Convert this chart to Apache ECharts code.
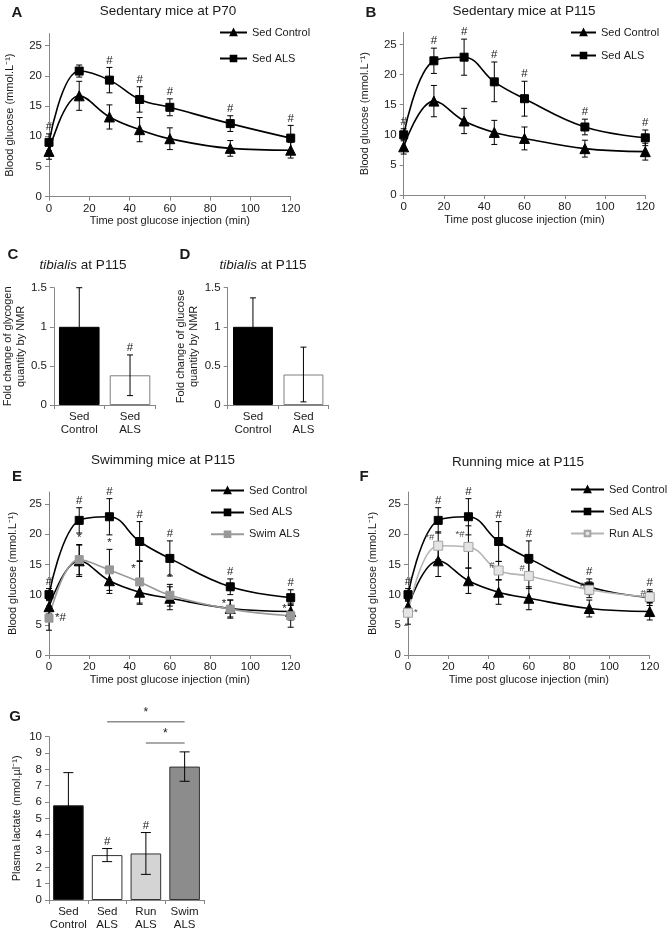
<!DOCTYPE html>
<html><head><meta charset="utf-8">
<script src="https://cdn.jsdelivr.net/npm/echarts@6/dist/echarts.min.js"></script>
<style>html,body{margin:0;padding:0;background:#fff}#c{width:667px;height:932px}</style>
</head><body><div id="c"></div>
<script>
// ---------- data ----------
const times = [0, 15, 30, 45, 60, 90, 120];
const glucoseTicks = [0, 5, 10, 15, 20, 25];

// Panel A (P70, sedentary)
const p70Ctrl = [7.5, 16.7, 13.2, 11.1, 9.6, 8.0, 7.7];
const p70CtrlErr = [1.3, 2.4, 2.0, 2.0, 1.8, 1.3, 1.3];
const p70Als = [9.0, 20.8, 19.3, 16.1, 14.8, 12.1, 9.7];
const p70AlsErr = [1.4, 1.0, 2.1, 2.1, 1.4, 1.3, 2.1];
const p70AlsSig = ['#', '', '#', '#', '#', '#', '#'];

// Panels B, E, F (P115, sedentary)
const p115Ctrl = [8.0, 15.6, 12.3, 10.4, 9.4, 7.7, 7.2];
const p115CtrlErr = [1.2, 2.6, 2.1, 2.0, 1.9, 1.4, 1.4];
const p115Als = [10.0, 22.3, 22.9, 18.8, 16.0, 11.3, 9.5];
const p115AlsErr = [1.0, 2.1, 3.0, 3.3, 2.9, 1.3, 1.3];
const p115AlsSig = ['#', '#', '#', '#', '#', '#', '#'];

// Panel E (swimming ALS)
const swimAls = [6.1, 15.8, 14.1, 12.1, 9.9, 7.6, 6.5];
const swimAlsErr = [2.0, 2.5, 3.4, 3.5, 1.8, 1.5, 1.9];
const swimAlsSig = ['*#', '*', '*', '*', '*', '*', '*'];

// Panel F (running ALS)
const runAls = [7.0, 18.1, 17.9, 14.0, 13.1, 10.8, 9.6];
const runAlsErr = [1.9, 2.3, 3.5, 1.5, 2.1, 1.3, 0.9];
const runAlsSig = ['*', '*#', '*#', '#', '#', '#', '#'];

// Panels C, D (tibialis NMR)
const tibCats = ['Sed\nControl', 'Sed\nALS'];
const glycogen = [1.0, 0.38];
const glycogenErr = [0.5, 0.26];
const glycogenSig = ['', '#'];
const glucoseNmr = [1.0, 0.39];
const glucoseNmrErr = [0.37, 0.35];
const glucoseNmrSig = ['', ''];

// Panel G (plasma lactate)
const lactCats = ['Sed\nControl', 'Sed\nALS', 'Run\nALS', 'Swim\nALS'];
const lactate = [5.8, 2.75, 2.85, 8.17];
const lactateErr = [2.0, 0.4, 1.28, 0.9];
const lactateSig = ['', '#', '#', ''];
const lactateCompare = [[2, 3, '*'], [1, 3, '*']];

// ---------- styling / helpers ----------
const FONT = '"Liberation Sans", Arial, sans-serif';
const AX = '#868686', TXT = '#1a1a1a';
const allTop = times.map(() => 'top');
const swimPlace = ['right', 'top', 'top', 'left', 'top', 'left', 'left'];
const runPlace = ['right', 'left', 'left', 'left', 'left', 'left', 'left'];

const grids = [
  {left: 49, top: 33.6, width: 241.7, height: 163.1},     // A
  {left: 403.7, top: 32.5, width: 241.6, height: 162.5},  // B
  {left: 49, top: 287.7, width: 106.4, height: 117.3},    // C
  {left: 227.7, top: 287.7, width: 101, height: 117.3},   // D
  {left: 49, top: 492, width: 241.7, height: 163},        // E
  {left: 408, top: 492, width: 241.7, height: 163},       // F
  {left: 49, top: 736.7, width: 155, height: 163.3}       // G
];

const txt = (s) => Object.assign({color: TXT, fontFamily: FONT}, s || {});
const axLine = {show: true, lineStyle: {color: AX, width: 1}};
const axTick = (extra) => Object.assign({show: true, length: 4, lineStyle: {color: AX}}, extra || {});

function timeX(gi) {
  return {type: 'value', gridIndex: gi, min: 0, max: 120, interval: 20,
    name: 'Time post glucose injection (min)', nameLocation: 'middle', nameGap: 19,
    nameTextStyle: txt({fontSize: 11}), axisLine: axLine, axisTick: axTick(),
    axisLabel: txt({fontSize: 11.5, margin: 6}), splitLine: {show: false}};
}
function glucY(gi, gap) {
  return {type: 'value', gridIndex: gi, min: 0, max: 27,
    name: 'Blood glucose (mmol.L⁻¹)', nameLocation: 'middle', nameGap: gap,
    nameTextStyle: txt({fontSize: 11}), axisLine: axLine,
    axisTick: axTick({customValues: glucoseTicks}),
    axisLabel: txt({fontSize: 11.5, margin: 7, customValues: glucoseTicks}), splitLine: {show: false}};
}
function catX(gi, cats) {
  return {type: 'category', gridIndex: gi, data: cats, axisLine: axLine,
    axisTick: axTick({alignWithLabel: false}),
    axisLabel: txt({fontSize: 11.5, margin: 5, lineHeight: 13, interval: 0})};
}
function barY(gi, max, interval, name, gap) {
  return {type: 'value', gridIndex: gi, min: 0, max: max, interval: interval,
    name: name, nameLocation: 'middle', nameGap: gap,
    nameTextStyle: txt({fontSize: 11, lineHeight: 13}), axisLine: axLine, axisTick: axTick(),
    axisLabel: txt({fontSize: 11.5, margin: 7}), splitLine: {show: false}};
}

function errRender(cap) {
  return function (params, api) {
    const x = api.value(0), y = api.value(1), e = api.value(2);
    const t = api.coord([x, y + e]), b = api.coord([x, y - e]);
    const st = {stroke: '#000', lineWidth: 1};
    return {type: 'group', children: [
      {type: 'line', shape: {x1: t[0], y1: t[1], x2: b[0], y2: b[1]}, style: st},
      {type: 'line', shape: {x1: t[0] - cap, y1: t[1], x2: t[0] + cap, y2: t[1]}, style: st},
      {type: 'line', shape: {x1: b[0] - cap, y1: b[1], x2: b[0] + cap, y2: b[1]}, style: st}
    ]};
  };
}
function errSeries(gi, xs, vals, errs, cap) {
  return {type: 'custom', xAxisIndex: gi, yAxisIndex: gi, silent: true, z: 4,
    renderItem: errRender(cap || 3), encode: {x: 0, y: 1},
    data: vals.map((v, i) => [xs[i], v, errs[i]])};
}
function annotSeries(gi, xs, vals, errs, sigs, places, size, color) {
  const data = [];
  sigs.forEach((s, i) => {
    if (!s) return;
    const anchor = places[i] === 'top' ? vals[i] + errs[i] : (places[i] === 'left' ? vals[i] + 0.6 * errs[i] : vals[i]);
    data.push([xs[i], anchor, i]);
  });
  return {type: 'custom', xAxisIndex: gi, yAxisIndex: gi, silent: true, z: 6, encode: {x: 0, y: 1},
    renderItem: function (params, api) {
      const i = api.value(2);
      const p = api.coord([api.value(0), api.value(1)]);
      let x = p[0], y = p[1], align = 'center', va = 'bottom';
      if (places[i] === 'left') { x -= 4; align = 'right'; va = 'middle'; }
      else if (places[i] === 'right') { x += 6; align = 'left'; va = 'middle'; }
      else { y -= 1; }
      return {type: 'text', x: x, y: y, style: {text: sigs[i], align: align, verticalAlign: va,
        fontSize: size, fontFamily: FONT, fill: color}};
    },
    data: data};
}
const styles = {
  'Sed Control': {symbol: 'triangle', symbolSize: 10, color: '#000', fill: '#000', border: '#000'},
  'Sed ALS': {symbol: 'rect', symbolSize: 8, color: '#000', fill: '#000', border: '#000'},
  'Swim ALS': {symbol: 'rect', symbolSize: 8, color: '#9a9a9a', fill: '#989898', border: '#989898'},
  'Run ALS': {symbol: 'rect', symbolSize: 9, color: '#b4b4b4', fill: '#e4e4e4', border: '#a4a4a4'}
};
function lineSeries(gi, name, vals) {
  const s = styles[name];
  return {type: 'line', name: name, xAxisIndex: gi, yAxisIndex: gi, smooth: 0.4,
    symbol: s.symbol, symbolSize: s.symbolSize, showSymbol: true, z: 5,
    lineStyle: {color: s.color, width: 1.6},
    itemStyle: {color: s.fill, borderColor: s.border, borderWidth: 1},
    data: vals.map((v, i) => [times[i], v])};
}
function groupSeries(gi, name, vals, errs, sigs, places, size, color) {
  const out = [lineSeries(gi, name, vals), errSeries(gi, times, vals, errs)];
  if (sigs) out.push(annotSeries(gi, times, vals, errs, sigs, places, size || 11.5, color || TXT));
  return out;
}
function barSeries(gi, vals, fills, borders, gap) {
  return {type: 'bar', xAxisIndex: gi, yAxisIndex: gi, barCategoryGap: gap, z: 2,
    data: vals.map((v, i) => ({value: v, itemStyle: {color: fills[i], borderColor: borders[i], borderWidth: 1}}))};
}
const idx = (arr) => arr.map((_, i) => i);

const series = [].concat(
  groupSeries(0, 'Sed Control', p70Ctrl, p70CtrlErr),
  groupSeries(0, 'Sed ALS', p70Als, p70AlsErr, p70AlsSig, allTop),
  groupSeries(1, 'Sed Control', p115Ctrl, p115CtrlErr),
  groupSeries(1, 'Sed ALS', p115Als, p115AlsErr, p115AlsSig, allTop),
  [barSeries(2, glycogen, ['#000', '#fff'], ['#000', '#7f7f7f'], '20%'),
   errSeries(2, idx(glycogen), glycogen, glycogenErr, 3),
   annotSeries(2, idx(glycogen), glycogen, glycogenErr, glycogenSig, ['top', 'top'], 11.5, TXT)],
  [barSeries(3, glucoseNmr, ['#000', '#fff'], ['#000', '#7f7f7f'], '21%'),
   errSeries(3, idx(glucoseNmr), glucoseNmr, glucoseNmrErr, 3),
   annotSeries(3, idx(glucoseNmr), glucoseNmr, glucoseNmrErr, glucoseNmrSig, ['top', 'top'], 11.5, TXT)],
  groupSeries(4, 'Sed Control', p115Ctrl, p115CtrlErr),
  groupSeries(4, 'Sed ALS', p115Als, p115AlsErr, p115AlsSig, allTop),
  groupSeries(4, 'Swim ALS', swimAls, swimAlsErr, swimAlsSig, swimPlace, 11.5, '#222'),
  groupSeries(5, 'Sed Control', p115Ctrl, p115CtrlErr),
  groupSeries(5, 'Sed ALS', p115Als, p115AlsErr, p115AlsSig, allTop),
  groupSeries(5, 'Run ALS', runAls, runAlsErr, runAlsSig, runPlace, 9.5, '#444'),
  [barSeries(6, lactate, ['#000', '#fff', '#d4d4d4', '#8c8c8c'], ['#222', '#333', '#333', '#333'], '21%'),
   errSeries(6, idx(lactate), lactate, lactateErr, 5),
   annotSeries(6, idx(lactate), lactate, lactateErr, lactateSig, ['top', 'top', 'top', 'top'], 11.5, TXT),
   {type: 'custom', xAxisIndex: 6, yAxisIndex: 6, silent: true, clip: false, z: 6, encode: {x: 0, y: 1},
    data: lactateCompare.map((c, k) => [c[0], c[1], k]),
    renderItem: function (params, api) {
      const a = api.value(0), b = api.value(1), k = api.value(2);
      let top = 0;
      for (let i = a; i <= b; i++) top = Math.max(top, lactate[i] + lactateErr[i]);
      const yv = top + 0.55 + k * 1.3;
      const p1 = api.coord([a, yv]), p2 = api.coord([b, yv]);
      return {type: 'group', children: [
        {type: 'line', shape: {x1: p1[0], y1: p1[1], x2: p2[0], y2: p2[1]}, style: {stroke: '#8c8c8c', lineWidth: 1.5}},
        {type: 'text', x: (p1[0] + p2[0]) / 2, y: p1[1] - 3, style: {text: lactateCompare[k][2], align: 'center', verticalAlign: 'bottom', fontSize: 12, fontFamily: FONT, fill: TXT}}
      ]};
    }}]
);

const legendBase = (left, top, width, gap, names) => ({left: left, top: top, orient: 'vertical', padding: 0,
  itemWidth: width, itemHeight: 7, itemGap: gap, data: names, selectedMode: false,
  textStyle: txt({fontSize: 11})});

const heading = (x, y, text, extra) => ({type: 'text', x: x, y: y,
  style: Object.assign({text: text, align: 'center', verticalAlign: 'middle', fontSize: 13.5, fontFamily: FONT, fill: TXT}, extra || {})});
const letter = (x, y, t) => heading(x, y, t, {fontSize: 15, fontWeight: 'bold'});
const tib = (x, y) => ({type: 'text', x: x, y: y, style: {text: '{i|tibialis} at P115', align: 'center', verticalAlign: 'middle',
  fontSize: 13.5, fontFamily: FONT, fill: TXT, rich: {i: {fontStyle: 'italic', fontSize: 13.5, fontFamily: FONT, fill: TXT}}}});

const option = {
  animation: false,
  backgroundColor: '#fff',
  grid: grids,
  xAxis: [timeX(0), timeX(1), catX(2, tibCats), catX(3, tibCats), timeX(4), timeX(5), catX(6, lactCats)],
  yAxis: [glucY(0, 34), glucY(1, 33),
    barY(2, 1.5, 0.5, 'Fold change of glycogen\nquantity by NMR', 22),
    barY(3, 1.5, 0.5, 'Fold change of glucose\nquantity by NMR', 27),
    glucY(4, 31), glucY(5, 30),
    barY(6, 10, 1, 'Plasma lactate (nmol.µl⁻¹)', 26)],
  legend: [
    legendBase(219, 27, 27, 15, ['Sed Control', 'Sed ALS']),
    legendBase(570, 27, 25, 12, ['Sed Control', 'Sed ALS']),
    legendBase(210, 485, 33, 10.9, ['Sed Control', 'Sed ALS', 'Swim ALS']),
    legendBase(570, 484, 33, 11, ['Sed Control', 'Sed ALS', 'Run ALS'])
  ],
  graphic: [
    letter(17, 13, 'A'), heading(168, 11, 'Sedentary mice at P70'),
    letter(371, 13, 'B'), heading(524, 11, 'Sedentary mice at P115'),
    letter(13, 255, 'C'), tib(83, 265),
    letter(185, 255, 'D'), tib(263, 265),
    letter(17, 477, 'E'), heading(163, 460, 'Swimming mice at P115'),
    letter(364, 477, 'F'), heading(518, 462, 'Running mice at P115'),
    letter(15, 717, 'G')
  ],
  series: series
};
const chart = echarts.init(document.getElementById('c'), null, {renderer: 'canvas'});
chart.setOption(option);
</script></body></html>
